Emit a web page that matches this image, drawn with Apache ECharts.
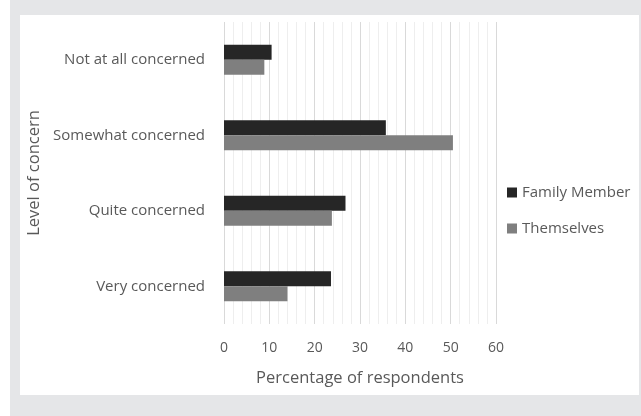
<!DOCTYPE html>
<html>
<head>
<meta charset="utf-8">
<script src="https://cdn.jsdelivr.net/npm/echarts@6/dist/echarts.min.js"></script>
<style>
  html, body { margin: 0; padding: 0; background: #ffffff; }
  #wrap { position: relative; width: 641px; height: 416px; background: #ffffff; }
  #bg { position: absolute; left: 10px; top: 0; width: 631px; height: 416px; background: #e5e6e8; }
  #panel { position: absolute; left: 20px; top: 15px; width: 619px; height: 380px; background: #ffffff; }
  #chart { position: absolute; left: 0; top: 0; width: 641px; height: 416px; }
</style>
</head>
<body>
<div id="wrap">
  <div id="bg"></div>
  <div id="panel"></div>
  <div id="chart"></div>
</div>
<script>
// Levels of concern, listed top to bottom
const categories = ['Not at all concerned', 'Somewhat concerned', 'Quite concerned', 'Very concerned'];
const familyMember = [10.5, 35.7, 26.8, 23.6];
const themselves = [8.9, 50.5, 23.8, 14.0];
const xTicks = [0, 10, 20, 30, 40, 50, 60];

const font = '"Open Sans", "DejaVu Sans", sans-serif';
const textColor = '#595959';

const chart = echarts.init(document.getElementById('chart'), null, { renderer: 'canvas' });
chart.setOption({
  backgroundColor: 'transparent',
  animation: false,
  textStyle: { fontFamily: font },
  grid: { left: 224, right: 145, top: 22, bottom: 92, containLabel: false },
  legend: {
    orient: 'vertical',
    left: 507,
    top: 185,
    padding: 0,
    itemWidth: 10,
    itemHeight: 10,
    itemGap: 21,
    icon: 'rect',
    textStyle: { color: textColor, fontSize: 15, fontFamily: font },
    data: ['Family Member', 'Themselves']
  },
  xAxis: {
    type: 'value',
    min: xTicks[0],
    max: xTicks[xTicks.length - 1],
    interval: 10,
    name: 'Percentage of respondents',
    nameLocation: 'middle',
    nameGap: 46,
    nameTextStyle: { color: textColor, fontSize: 16.5, fontFamily: font },
    axisLine: { show: false },
    axisTick: { show: false },
    axisLabel: { color: textColor, fontSize: 14, margin: 17, fontFamily: font },
    splitLine: { show: true, lineStyle: { color: '#d9d9d9', width: 1 } },
    minorTick: { show: false, splitNumber: 5 },
    minorSplitLine: { show: true, lineStyle: { color: '#eeeeee', width: 1 } }
  },
  yAxis: {
    type: 'category',
    inverse: true,
    data: categories,
    name: 'Level of concern',
    nameLocation: 'middle',
    nameGap: 181,
    nameRotate: 90,
    nameTextStyle: { color: textColor, fontSize: 16.5, fontFamily: font },
    axisLine: { show: false },
    axisTick: { show: false },
    axisLabel: { color: textColor, fontSize: 15, margin: 19, fontFamily: font }
  },
  series: [
    {
      name: 'Family Member',
      type: 'bar',
      data: familyMember,
      barWidth: 15,
      barGap: '0%',
      itemStyle: { color: '#262626' }
    },
    {
      name: 'Themselves',
      type: 'bar',
      data: themselves,
      barWidth: 15,
      barGap: '0%',
      itemStyle: { color: '#7f7f7f' }
    }
  ]
});
</script>
</body>
</html>
